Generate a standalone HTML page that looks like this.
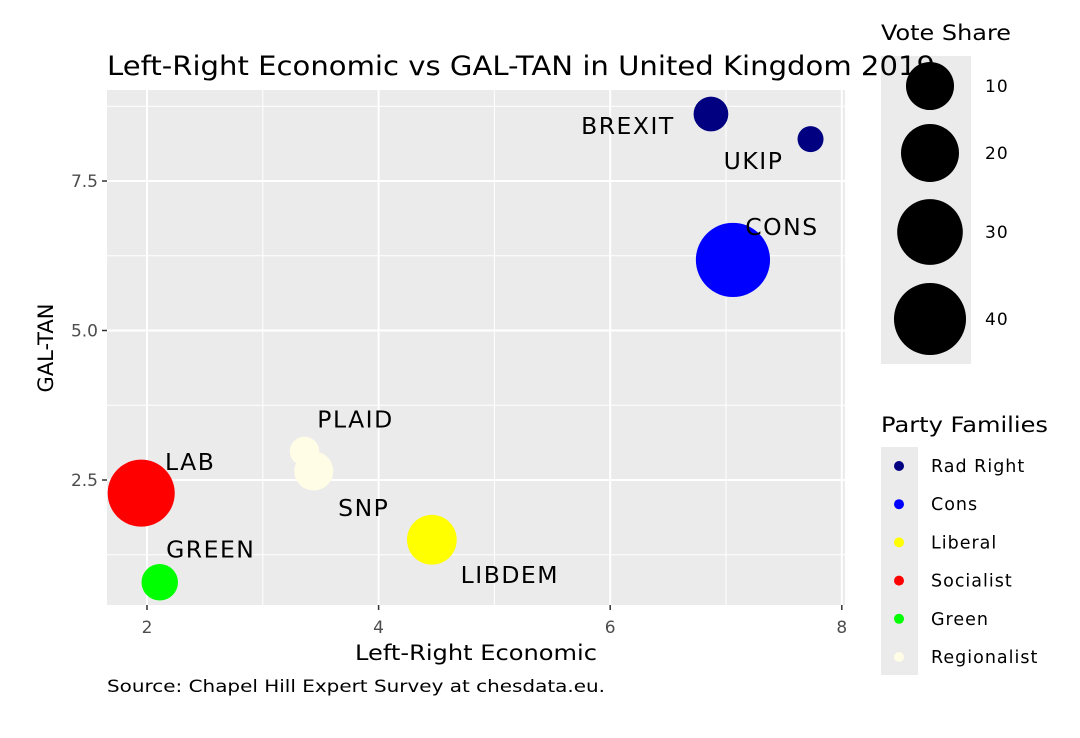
<!DOCTYPE html>
<html><head><meta charset="utf-8"><style>
body{margin:0;background:#fff;}
svg text{font-family:"DejaVu Sans","Liberation Sans",sans-serif;}
</style></head><body>
<svg id="chart" width="1080" height="733" viewBox="0 0 1080 733" xmlns="http://www.w3.org/2000/svg">
<rect x="0" y="0" width="1080" height="733" fill="#fff"/>
<rect x="107" y="90" width="738" height="515" fill="#ebebeb"/>
<g id="grid"></g><g id="points"></g><g id="labels"></g><g id="axes"></g>
<g>
<text x="881" y="40" font-size="21" textLength="130" lengthAdjust="spacingAndGlyphs">Vote Share</text>
<rect x="881" y="56" width="90" height="308" fill="#ebebeb"/>
<g id="sizeleg"></g>
</g>
<text x="107" y="75" font-size="27" textLength="828" lengthAdjust="spacingAndGlyphs" fill="#000">Left-Right Economic vs GAL-TAN in United Kingdom 2019</text>
<text x="355" y="660" font-size="21" textLength="242" lengthAdjust="spacingAndGlyphs">Left-Right Economic</text>
<text x="53" y="348" font-size="21" text-anchor="middle" transform="rotate(-90 53 348)">GAL-TAN</text>
<text x="107" y="692" font-size="17" textLength="498" lengthAdjust="spacingAndGlyphs">Source: Chapel Hill Expert Survey at chesdata.eu.</text>
<g>
<text x="881" y="432" font-size="21" textLength="167" lengthAdjust="spacingAndGlyphs">Party Families</text>
<rect x="881" y="447" width="37" height="228" fill="#ebebeb"/>
<g id="colleg"></g>
</g>
</svg>
<script>
const parties=["BREXIT","UKIP","CONS","LAB","GREEN","PLAID","SNP","LIBDEM"];
const lrecon=[6.87,7.73,7.06,1.95,2.11,3.36,3.44,4.46];
const galtan=[8.62,8.20,6.18,2.28,0.79,2.98,2.65,1.50];
const voteShare=[2.0,0.07,43.6,32.1,2.7,0.5,3.9,11.5];
const family=["Rad Right","Rad Right","Cons","Socialist","Green","Regionalist","Regionalist","Liberal"];
const familyNames=["Rad Right","Cons","Liberal","Socialist","Green","Regionalist"];
const familyColors=["#000080","#0000ff","#ffff00","#ff0000","#00ff00","#fffde6"];
const xTicks=[2,4,6,8];
const yTicks=[2.5,5.0,7.5];
const yTickLabels=["2.5","5.0","7.5"];
const sizeBreaks=[10,20,30,40];
const labelOffsets=[[-83,11],[-57,21],[49,-34],[49,-32],[51,-34],[51,-33],[50,36],[78,34]];
const NS="http://www.w3.org/2000/svg";
const X=v=>147+(v-2)*115.8;
const Y=v=>181-(v-7.5)*59.8;
const R=v=>12+3.8*Math.sqrt(v);
function mk(p,tag,a){const e=document.createElementNS(NS,tag);for(const k in a)e.setAttribute(k,a[k]);p.appendChild(e);return e;}
const grid=document.getElementById('grid');
[3,5,7].forEach(v=>{const l=mk(grid,'line',{x1:X(v),x2:X(v),y1:90,y2:605,stroke:'#fff','stroke-width':1});});
[1.25,3.75,6.25,8.75].forEach(v=>{const l=mk(grid,'line',{x1:107,x2:845,y1:Y(v),y2:Y(v),stroke:'#fff','stroke-width':1});});
const axes=document.getElementById('axes');
xTicks.forEach(v=>{const l=mk(grid,'line',{x1:X(v),x2:X(v),y1:90,y2:605,stroke:'#fff','stroke-width':2});
mk(axes,'line',{x1:X(v),x2:X(v),y1:605,y2:610,stroke:'#333','stroke-width':1.5});
const t=mk(axes,'text',{x:X(v),y:633,'font-size':17,'text-anchor':'middle',fill:'#4d4d4d'});t.textContent=v;});
yTicks.forEach((v,i)=>{const l=mk(grid,'line',{x1:107,x2:845,y1:Y(v),y2:Y(v),stroke:'#fff','stroke-width':2});
mk(axes,'line',{x1:102,x2:107,y1:Y(v),y2:Y(v),stroke:'#333','stroke-width':1.5});
const t=mk(axes,'text',{x:98,y:Y(v)+6,'font-size':17,'text-anchor':'end',fill:'#4d4d4d'});t.textContent=yTickLabels[i];});
const pts=document.getElementById('points'),lbs=document.getElementById('labels');
parties.forEach((p,i)=>{const c=familyColors[familyNames.indexOf(family[i])];
const e=mk(pts,'circle',{cx:X(lrecon[i]),cy:Y(galtan[i]),r:R(voteShare[i]),fill:c});


const t=mk(lbs,'text',{x:X(lrecon[i])+labelOffsets[i][0],y:Y(galtan[i])+labelOffsets[i][1]+9,'font-size':23.5,'text-anchor':'middle',fill:'#000','letter-spacing':1.5});t.textContent=p;

});
const sl=document.getElementById('sizeleg');const sy=[86,153,232,319];
sizeBreaks.forEach((v,i)=>{const c=mk(sl,'circle',{cx:930,cy:sy[i],r:R(v),fill:'#000'});
const t=mk(sl,'text',{x:985,y:sy[i]+6,'font-size':17,'letter-spacing':1});t.textContent=v;});
const cl=document.getElementById('colleg');
familyNames.forEach((f,i)=>{const y=466+i*38.2;const c=mk(cl,'circle',{cx:899,cy:y,r:5,fill:familyColors[i]});
const t=mk(cl,'text',{x:931,y:y+6,'font-size':17.5,'letter-spacing':1});t.textContent=f;});
</script>
</body></html>
